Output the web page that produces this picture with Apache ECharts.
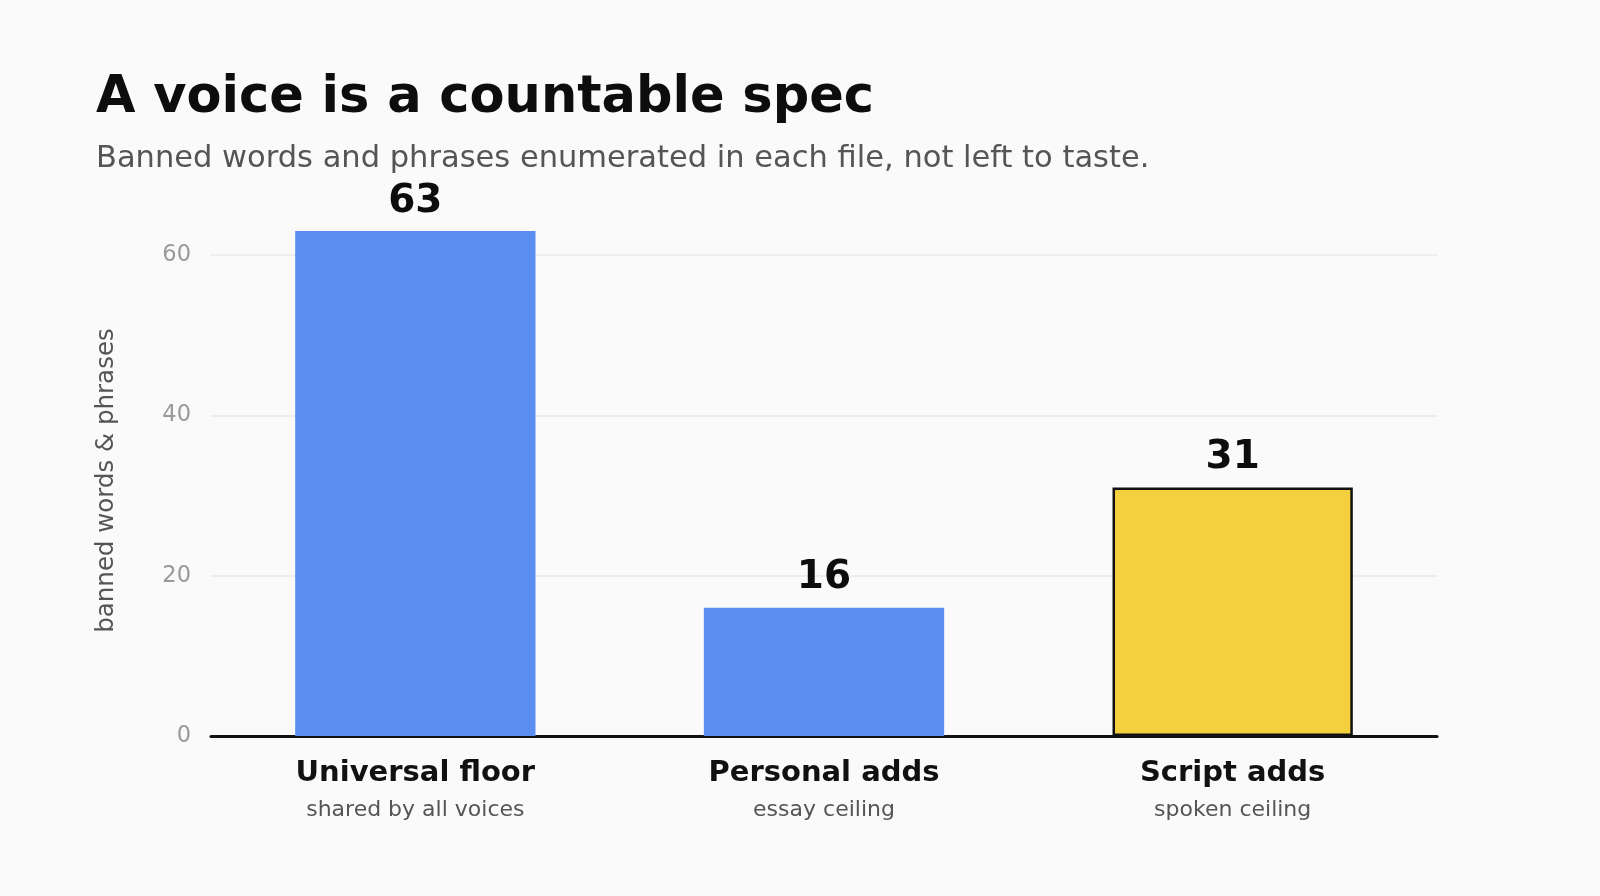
<!DOCTYPE html>
<html>
<head>
<meta charset="utf-8">
<script src="https://cdn.jsdelivr.net/npm/echarts@6/dist/echarts.min.js"></script>
<style>
html,body{margin:0;padding:0;background:#fafafa;}
#chart{width:1600px;height:896px;}
</style>
</head>
<body>
<div id="chart"></div>
<script>
const categories = ['Universal floor', 'Personal adds', 'Script adds'];
const subLabels = ['shared by all voices', 'essay ceiling', 'spoken ceiling'];
const values = [63, 16, 31];
const yTicks = [0, 20, 40, 60];

const FONT = '"DejaVu Sans", sans-serif';
const chart = echarts.init(document.getElementById('chart'));

const barData = values.map((v, i) => {
  if (i === 2) {
    return { value: v, itemStyle: { color: '#f4d03f', borderColor: '#111', borderWidth: 2.5 } };
  }
  return { value: v, itemStyle: { color: '#5b8def' } };
});

chart.setOption({
  backgroundColor: '#fafafa',
  animation: false,
  title: [
    { text: 'A voice is a countable spec', left: 96, top: 73, padding: 0,
      textStyle: { fontFamily: FONT, fontSize: 51, fontWeight: 'bold', color: '#0d0d0d' } },
    { text: 'Banned words and phrases enumerated in each file, not left to taste.', left: 96, top: 144, padding: 0,
      textStyle: { fontFamily: FONT, fontSize: 30.5, fontWeight: 'normal', color: '#555' } }
  ],
  grid: { left: 211, right: 163, top: 215, bottom: 160 },
  xAxis: {
    type: 'category',
    data: categories,
    axisLine: { lineStyle: { color: '#111', width: 3 } },
    axisTick: { show: false },
    axisLabel: {
      margin: 18,
      formatter: (v, i) => '{b|' + v + '}\n{s|' + subLabels[i] + '}',
      rich: {
        b: { fontFamily: FONT, fontSize: 29, fontWeight: 'bold', color: '#111', lineHeight: 38 },
        s: { fontFamily: FONT, fontSize: 22, color: '#555', lineHeight: 36 }
      }
    }
  },
  yAxis: {
    type: 'value',
    min: 0, max: 65, interval: 20,
    name: 'banned words & phrases',
    nameLocation: 'middle',
    nameGap: 92,
    nameTextStyle: { fontFamily: FONT, fontSize: 24.5, color: '#555', padding: [0, 10, 0, 0] },
    axisLine: { show: false },
    axisTick: { show: false },
    axisLabel: {
      showMaxLabel: false, margin: 20,
      fontFamily: FONT, fontSize: 22.5, color: '#999',
      formatter: v => (yTicks.indexOf(v) >= 0 ? String(v) : '')
    },
    splitLine: { show: true, showMaxLine: false, lineStyle: { color: '#e8e8e8', width: 1.5 } }
  },
  series: [{
    type: 'bar',
    data: barData,
    barWidth: '58.8%',
    label: {
      show: true, position: 'top', distance: 10,
      fontFamily: FONT, fontSize: 39, fontWeight: 'bold', color: '#0d0d0d'
    }
  }]
});
</script>
</body>
</html>
